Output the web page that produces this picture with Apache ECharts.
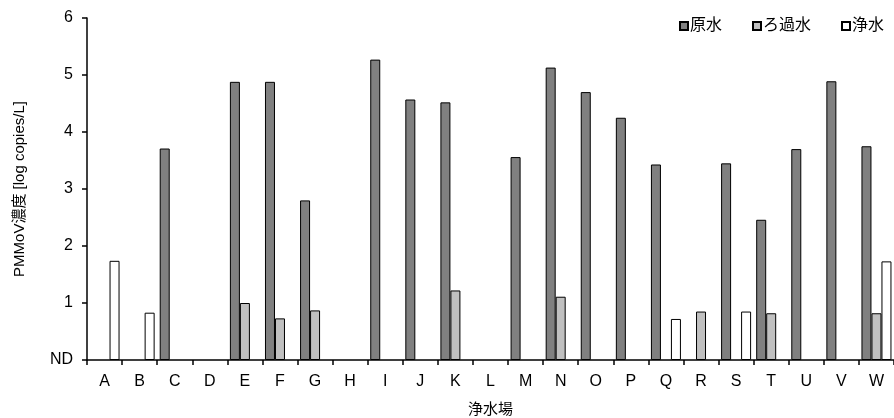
<!DOCTYPE html>
<html>
<head>
<meta charset="utf-8">
<script src="https://cdn.jsdelivr.net/npm/echarts@6/dist/echarts.min.js"></script>
<style>
  html, body { margin: 0; padding: 0; background: #fff; }
  #chart { width: 894px; height: 418px; }
</style>
</head>
<body>
<div id="chart"></div>
<script>
// 浄水場ごとの PMMoV 濃度 (log copies/L)、ND は 0、未検出・未測定は null
const sites = ['A','B','C','D','E','F','G','H','I','J','K','L','M','N','O','P','Q','R','S','T','U','V','W'];
const rawWater      = [null, null, 3.71, null, 4.88, 4.88, 2.80, null, 5.27, 4.57, 4.52, null, 3.56, 5.13, 4.70, 4.25, 3.43, null, 3.45, 2.46, 3.70, 4.89, 3.75];
const filteredWater = [null, null, null, null, 1.00, 0.73, 0.87, null, null, null, 1.22, null, null, 1.11, null, null, null, 0.85, null, 0.82, null, null, 0.82];
const treatedWater  = [1.74, 0.83, null, null, null, null, null, null, null, null, null, null, null, null, null, null, 0.72, null, 0.85, null, null, null, 1.73];
const yTicks = [0, 1, 2, 3, 4, 5, 6];

const font = 'Liberation Sans, Arial, "Noto Sans CJK JP", sans-serif';
const chart = echarts.init(document.getElementById('chart'), null, { renderer: 'canvas' });

function barSeries(name, data, color) {
  return {
    name: name,
    type: 'bar',
    data: data,
    barWidth: 10,
    barGap: '0%',
    itemStyle: { color: color, borderColor: '#000', borderWidth: 1 },
    emphasis: { disabled: true }
  };
}

chart.setOption({
  animation: false,
  textStyle: { fontFamily: font, color: '#000' },
  grid: { left: 87, right: 0, top: 18, bottom: 58, containLabel: false, outerBoundsMode: 'none' },
  legend: {
    right: 5,
    top: 13,
    itemWidth: 8,
    itemHeight: 8,
    itemGap: 30,
    icon: 'rect',
    textStyle: { fontFamily: font, fontSize: 16, color: '#000', padding: [0, 0, 0, -3] },
    data: ['原水', 'ろ過水', '浄水']
  },
  xAxis: {
    type: 'category',
    data: sites,
    name: '浄水場',
    nameLocation: 'middle',
    nameGap: 42,
    nameTextStyle: { fontSize: 15, color: '#000' },
    axisLine: { lineStyle: { color: '#000', width: 1.5 } },
    axisTick: { show: true, alignWithLabel: false, length: 5, lineStyle: { color: '#000', width: 1.5 } },
    axisLabel: { fontSize: 16, color: '#000', margin: 14 },
    splitLine: { show: false }
  },
  yAxis: {
    type: 'value',
    min: 0,
    max: 6,
    interval: 1,
    name: 'PMMoV濃度 [log copies/L]',
    nameLocation: 'middle',
    nameGap: 60,
    nameTextStyle: { fontSize: 15, color: '#000' },
    axisLine: { show: true, lineStyle: { color: '#000', width: 1.5 } },
    axisTick: { show: true, length: 5, lineStyle: { color: '#000', width: 1.5 } },
    axisLabel: {
      fontSize: 16,
      color: '#000',
      margin: 14,
      formatter: function (v) { return v === yTicks[0] ? 'ND' : String(v); }
    },
    splitLine: { show: false }
  },
  series: [
    barSeries('原水', rawWater, '#808080'),
    barSeries('ろ過水', filteredWater, '#c0c0c0'),
    barSeries('浄水', treatedWater, '#ffffff')
  ]
});
</script>
</body>
</html>
